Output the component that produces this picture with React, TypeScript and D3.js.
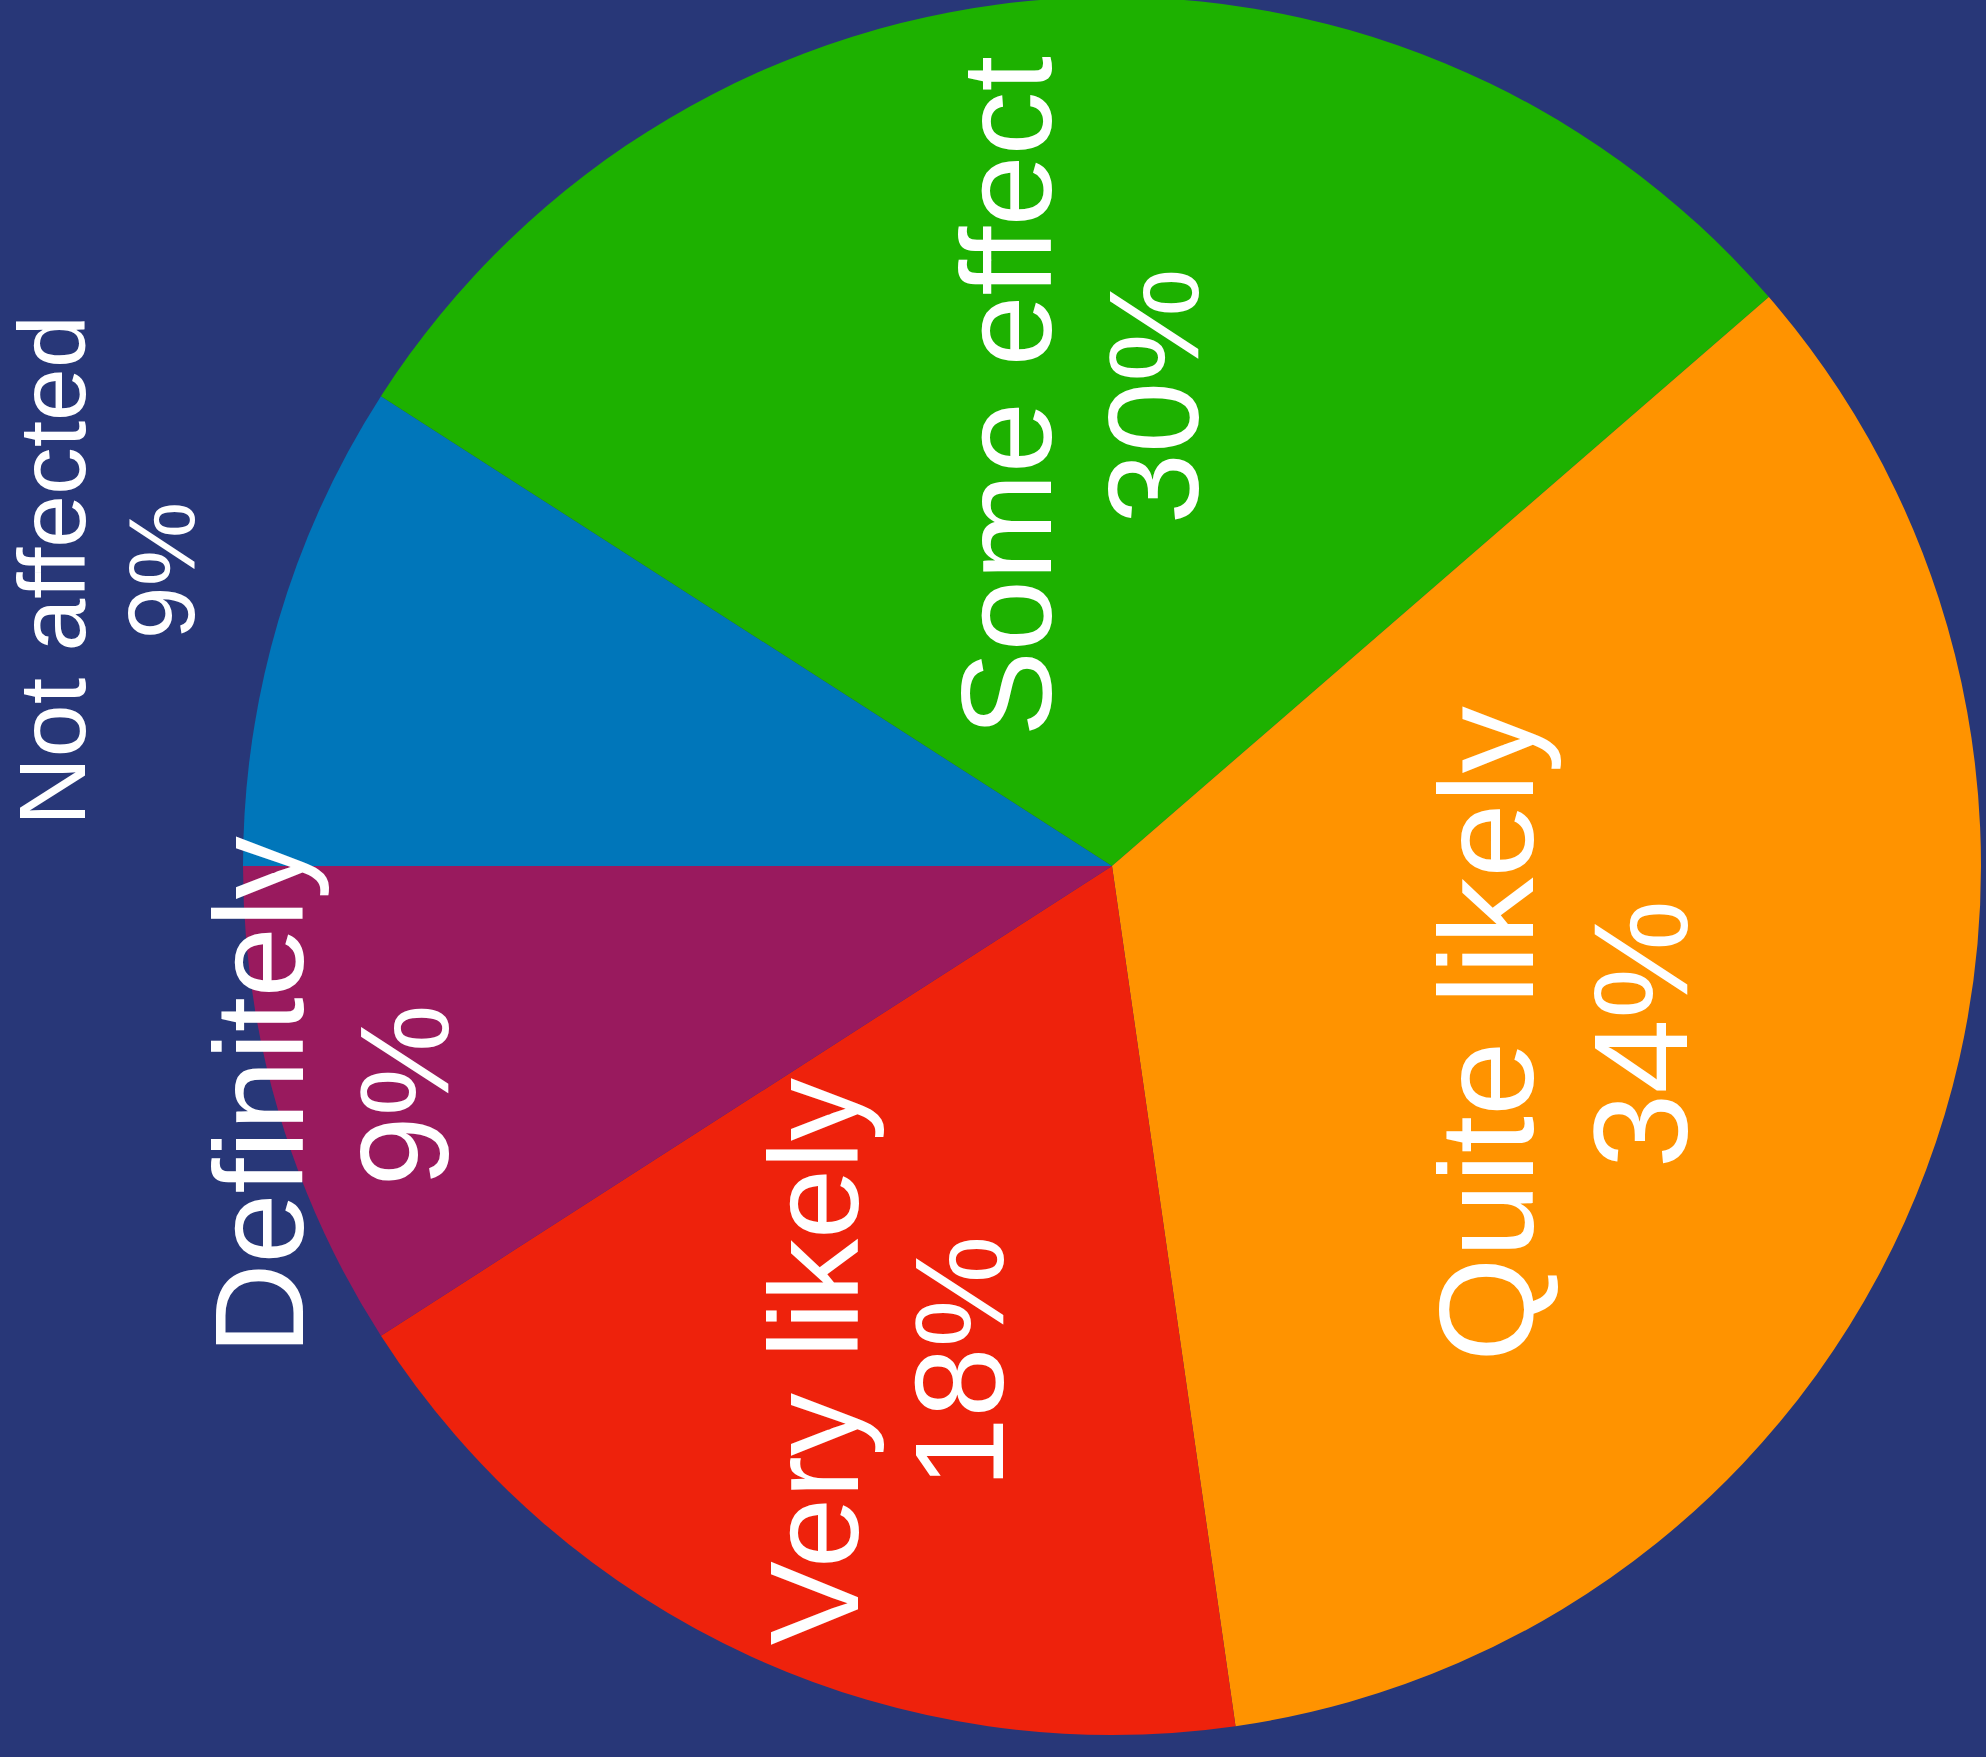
import React, { useEffect } from 'react';
import * as d3 from 'd3';

// slices in drawing order (clockwise from the top before the -90° turn)
const categories = ['Not affected', 'Some effect', 'Quite likely', 'Very likely', 'Definitely'];
const shares = [9.09, 29.55, 34.09, 18.18, 9.09];
const colors = ['#0076BA', '#1DB100', '#FF9300', '#EE220C', '#991A5E'];

// label layout: distance from centre (fraction of radius) and font size
const labelRadius = [1.207, 0.542, 0.553, 0.627, 0.937];
const labelSize = [95, 128, 134, 126, 126];

const WIDTH = 1986;
const HEIGHT = 1757;
const CX = 1112;
const CY = 866;
const R = 869;

const App: React.FC = () => {
  useEffect(() => {
    document.body.style.margin = '0';
  }, []);

  const total = d3.sum(shares);
  const pie = d3.pie<number>().sort(null).startAngle(0).endAngle(2 * Math.PI);
  const arcs = pie(shares);
  const arc = d3.arc<d3.PieArcDatum<number>>().innerRadius(0).outerRadius(R);

  return (
    <svg width={WIDTH} height={HEIGHT} style={{ display: 'block', background: '#283778' }}>
      <rect width={WIDTH} height={HEIGHT} fill="#283778" />
      <g transform={`translate(${CX},${CY}) rotate(-90)`}>
        {arcs.map((d, i) => (
          <path key={categories[i]} d={arc(d) || ''} fill={colors[i]} />
        ))}
        {arcs.map((d, i) => {
          const rr = R * labelRadius[i];
          const [x, y] = d3.arc<d3.PieArcDatum<number>>().innerRadius(rr).outerRadius(rr).centroid(d);
          const fs = labelSize[i];
          const cap = fs * 0.716;
          const gap = fs * 1.15;
          const base = y + (cap - gap) / 2;
          return (
            <g key={'l' + categories[i]} fill="#ffffff" textAnchor="middle"
              style={{ fontFamily: '"Liberation Sans", Arial, Helvetica, sans-serif', fontSize: fs }}>
              <text x={x} y={base}>{categories[i]}</text>
              <text x={x} y={base + gap}>{`${Math.round((shares[i] / total) * 100)}%`}</text>
            </g>
          );
        })}
      </g>
    </svg>
  );
};

export default App;
